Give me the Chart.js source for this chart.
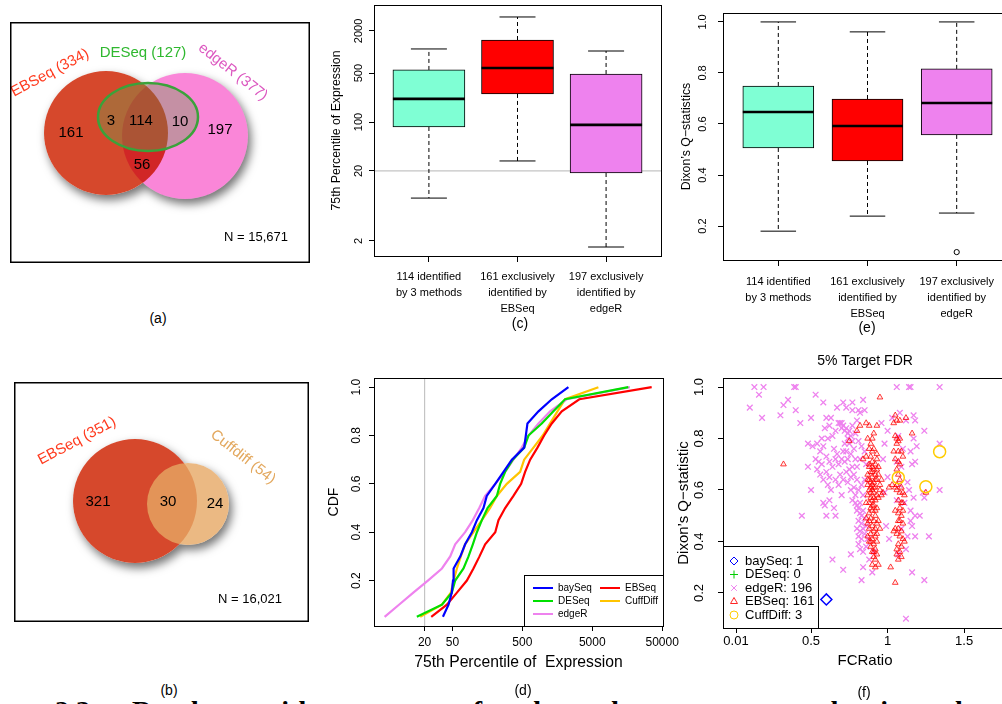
<!DOCTYPE html>
<html>
<head>
<meta charset="utf-8">
<title>DE method comparison</title>
<script src="https://cdn.jsdelivr.net/npm/chart.js@4.4.1/dist/chart.umd.min.js"></script>
<style>
  html, body { margin: 0; padding: 0; background: #fff; }
  body { position: relative; width: 1002px; height: 704px; overflow: hidden; font-family: "Liberation Sans", Arial, sans-serif; color: #000; }
  canvas { position: absolute; }
  .cap { position: absolute; font-size: 14px; transform: translate(-50%, -50%); white-space: nowrap; }
  .heading { position: absolute; left: 55px; top: 697px; font: bold 28px/28px "Liberation Serif", "DejaVu Serif", serif; white-space: pre; word-spacing: 14px; }
</style>
</head>
<body>
<canvas id="vennA" width="300" height="241" style="left:10px;top:22px"></canvas>
<canvas id="vennB" width="295" height="240" style="left:14px;top:382px"></canvas>
<canvas id="exprBox" width="345" height="340" style="left:320px;top:0px"></canvas>
<canvas id="dixonBox" width="360" height="340" style="left:660px;top:0px"></canvas>
<canvas id="exprCdf" width="370" height="325" style="left:320px;top:350px"></canvas>
<canvas id="fdrScatter" width="345" height="330" style="left:670px;top:345px"></canvas>
<div class="heading">2.3  Results  with  some  of  the  data  sets  used  in  the  tests  of  all</div>
<div class="cap" style="left:158px;top:318px">(a)</div>
<div class="cap" style="left:169px;top:690px">(b)</div>
<div class="cap" style="left:520px;top:323px">(c)</div>
<div class="cap" style="left:523px;top:690px">(d)</div>
<div class="cap" style="left:867px;top:327px">(e)</div>
<div class="cap" style="left:864px;top:692px">(f)</div>
<script>
// ---------- data ----------
const vennA_sets = ['EBSeq', 'DESeq', 'edgeR'];
// EBSeq only, EBSeq+DESeq, all three, DESeq+edgeR, edgeR only, EBSeq+edgeR
const vennA_counts = [161, 3, 114, 10, 197, 56];
const vennA_N = 15671;

const vennB_sets = ['EBSeq', 'Cuffdiff'];
// EBSeq only, both, Cuffdiff only
const vennB_counts = [321, 30, 24];
const vennB_N = 16021;

const boxGroups = [
  ['114 identified', 'by 3 methods'],
  ['161 exclusively', 'identified by', 'EBSeq'],
  ['197 exclusively', 'identified by', 'edgeR']
];
const boxColors = ['#7fffd4', '#ff0000', '#ee82ee'];

// 75th percentile of expression (log scale)
const exprTicks = [2, 20, 100, 500, 2000];
const exprMin = [8.2, 27.8, 1.64];
const exprQ1 = [85, 252, 18.7];
const exprMed = [214, 592, 91];
const exprQ3 = [555, 1486, 486];
const exprMax = [1107, 3170, 1035];

// Dixon's Q statistics
const dixonTicks = [0.2, 0.4, 0.6, 0.8, 1.0];
const dixonMin = [0.18, 0.239, 0.251];
const dixonQ1 = [0.506, 0.455, 0.557];
const dixonMed = [0.647, 0.592, 0.682];
const dixonQ3 = [0.749, 0.698, 0.816];
const dixonMax = [1.0, 0.961, 1.0];
const dixonOut = [[], [], [0.098]];

// CDF of the 75th percentile, one x value per quantile level
const cdfLevels = [0.05, 0.10, 0.15, 0.20, 0.25, 0.30, 0.35, 0.40, 0.45, 0.50,
                   0.55, 0.60, 0.65, 0.70, 0.75, 0.80, 0.85, 0.90, 0.95, 1.00];
const cdfXTicks = [20, 50, 500, 5000, 50000];
const cdfYTicks = [0.2, 0.4, 0.6, 0.8, 1.0];
const baySeqQ = [36.6, 44, 49, 51, 52, 65, 76, 95, 112, 139, 155, 205, 269, 354, 531, 561, 592, 851, 1319, 2280];
const deseqQ = [15.5, 35.4, 49, 54.8, 72, 85, 98, 112, 132, 159, 216, 241, 284, 365, 531, 612, 948, 1393, 2046, 16400];
const edgeRQ = [5.36, 8.6, 13.8, 22.3, 35.4, 46.5, 54.8, 76, 98, 121, 147, 205, 284, 373, 491, 612, 851, 1249, 2157, 17300];
const ebseqQ = [24.9, 41.7, 58, 80.5, 100, 122, 147, 205, 228, 284, 373, 481, 548, 647, 823, 1025, 1319, 1832, 3270, 35400];
const cuffQ = [17.3, 35.4, 47.5, 52, 58, 66, 76, 100, 132, 173, 216, 300, 465, 531, 721, 979, 1249, 1589, 2046, 6120];

// 5% target FDR: [FC ratio, Dixon's Q]
const fcTicks = [0.01, 0.5, 1, 1.5];
const qTicks = [0.2, 0.4, 0.6, 0.8, 1.0];
const baySeqPts = [[0.60, 0.175]];
const deseqPts = [];
const edgeRPts = [
  [0.10,0.92],[0.13,1.00],[0.16,0.97],[0.19,1.00],[0.18,0.88],[0.30,0.89],[0.32,0.93],[0.35,0.95],[0.39,1.00],[0.40,1.00],
  [0.40,0.91],[0.43,0.86],[0.50,0.88],[0.53,0.97],[0.58,0.94],[0.60,0.88],[0.48,0.78],[0.51,0.77],[0.54,0.78],[0.54,0.68],
  [0.48,0.69],[0.50,0.60],[0.44,0.50],[0.58,0.77],[0.61,0.80],[0.62,0.71],[0.64,0.81],[0.63,0.88],[0.67,0.92],[0.71,0.94],
  [0.73,0.92],[0.77,0.94],[0.77,0.91],[0.81,0.91],[0.84,0.95],[0.85,0.91],
  [0.55,0.71],[0.57,0.70],[0.56,0.66],[0.58,0.64],[0.60,0.73],[0.60,0.67],[0.62,0.65],[0.61,0.62],[0.63,0.60],[0.58,0.55],
  [0.59,0.54],[0.60,0.50],[0.62,0.56],[0.65,0.53],[0.66,0.50],[0.64,0.69],[0.66,0.72],[0.65,0.76],[0.67,0.74],[0.68,0.70],
  [0.66,0.64],[0.68,0.62],[0.69,0.66],[0.70,0.58],[0.62,0.85],[0.66,0.83],[0.56,0.75],[0.53,0.72],[0.57,0.80],[0.59,0.84],
  [0.68,0.86],[0.69,0.86],[0.70,0.86],[0.71,0.85],[0.70,0.84],[0.72,0.83],[0.73,0.84],[0.74,0.82],[0.75,0.83],[0.74,0.80],
  [0.76,0.81],[0.75,0.78],[0.77,0.79],[0.72,0.78],[0.73,0.75],[0.71,0.75],[0.70,0.72],[0.72,0.71],[0.74,0.72],[0.76,0.74],
  [0.78,0.76],[0.79,0.72],[0.77,0.69],[0.75,0.68],[0.73,0.67],[0.71,0.64],[0.74,0.63],[0.76,0.65],[0.78,0.66],[0.80,0.69],
  [0.82,0.72],[0.80,0.64],[0.78,0.61],[0.76,0.60],[0.79,0.58],[0.81,0.60],[0.83,0.62],[0.77,0.56],[0.79,0.55],[0.80,0.54],
  [0.81,0.53],[0.82,0.55],[0.80,0.52],[0.82,0.51],[0.83,0.50],[0.84,0.52],[0.81,0.48],[0.83,0.47],[0.85,0.49],[0.84,0.45],
  [0.82,0.44],[0.81,0.42],[0.83,0.41],[0.85,0.43],[0.81,0.39],[0.82,0.37],[0.84,0.36],[0.86,0.38],[0.80,0.45],[0.86,0.46],
  [0.84,0.58],[0.85,0.64],[0.86,0.70],[0.85,0.75],[0.83,0.77],[0.81,0.79],[0.79,0.82],[0.77,0.85],[0.80,0.87],[0.82,0.90],
  [0.64,0.33],[0.71,0.29],[0.84,0.30],[0.83,0.25],[0.76,0.35],[0.88,0.33],[0.90,0.28],[0.87,0.41],[0.91,0.36],
  [1.06,1.00],[1.14,1.00],[1.15,1.00],[1.34,1.00],[1.08,0.90],[1.12,0.87],[1.17,0.89],[1.18,0.87],[1.24,0.83],[1.07,0.81],
  [1.10,0.76],[1.06,0.71],[1.09,0.69],[1.17,0.80],[1.19,0.77],[1.15,0.75],[1.18,0.71],[1.16,0.70],[1.34,0.78],[1.13,0.63],
  [1.14,0.60],[1.17,0.57],[1.15,0.52],[1.15,0.48],[1.18,0.50],[1.16,0.46],[1.13,0.42],[1.18,0.42],[1.27,0.42],[1.12,0.37],
  [1.16,0.28],[1.24,0.25],[1.12,0.10],[1.23,0.59],[1.24,0.57],[1.34,0.60],[1.21,0.50],[1.00,0.65],[0.98,0.59],[0.99,0.46],
  [1.01,0.41],[0.97,0.72],[0.98,0.78],[1.00,0.83],[1.03,0.88],[0.96,0.86],[1.06,0.56],[1.08,0.62],[1.11,0.55],[1.09,0.45],
  [1.07,0.35]
];
const ebseqPts = [
  [0.82,0.85],[0.86,0.86],[0.88,0.85],[0.93,0.85],[0.87,0.80],[0.89,0.78],[0.90,0.75],[0.88,0.76],[0.91,0.76],[0.86,0.73],
  [0.89,0.73],[0.93,0.72],[0.90,0.71],[0.92,0.70],[0.88,0.69],[0.91,0.68],[0.94,0.69],[0.89,0.67],[0.87,0.66],[0.90,0.65],
  [0.92,0.66],[0.88,0.64],[0.91,0.63],[0.93,0.64],[0.87,0.62],[0.89,0.61],[0.90,0.62],[0.92,0.61],[0.95,0.62],[0.88,0.60],
  [0.91,0.59],[0.93,0.58],[0.96,0.58],[0.87,0.58],[0.89,0.57],[0.90,0.56],[0.92,0.56],[0.88,0.55],[0.94,0.57],[0.91,0.54],
  [0.89,0.53],[0.93,0.53],[0.90,0.52],[0.88,0.51],[0.92,0.50],[0.89,0.49],[0.91,0.48],[0.94,0.48],[0.87,0.47],[0.90,0.46],
  [0.93,0.47],[0.88,0.45],[0.91,0.44],[0.89,0.43],[0.92,0.42],[0.95,0.45],[0.90,0.41],[0.88,0.40],[0.91,0.39],[0.93,0.40],
  [0.89,0.38],[0.92,0.37],[0.90,0.36],[0.93,0.35],[0.91,0.34],[0.92,0.33],[0.90,0.31],[0.92,0.30],[0.94,0.31],[0.87,0.42],
  [0.86,0.49],[0.86,0.55],[0.94,0.66],[0.95,0.60],[0.93,0.74],[0.90,0.80],[0.91,0.82],[0.96,0.64],[0.97,0.59],[0.89,0.59],
  [0.90,0.60],[0.91,0.61],[0.89,0.63],[0.92,0.64],[0.90,0.67],
  [0.88,0.70],[0.90,0.69],[0.93,0.68],[0.87,0.64],[0.91,0.57],[0.90,0.54],[0.92,0.52],[0.88,0.48],[0.92,0.45],[0.89,0.40],
  [0.91,0.36],[0.93,0.43],
  [1.04,0.86],[1.05,0.89],[1.06,0.87],[1.08,0.87],[1.05,0.81],[1.06,0.80],[1.07,0.79],[1.06,0.78],[1.08,0.80],[1.04,0.75],
  [1.07,0.75],[1.09,0.75],[1.05,0.72],[1.07,0.71],[1.08,0.70],[1.06,0.68],[1.07,0.66],[1.03,0.62],[1.05,0.61],[1.06,0.60],
  [1.08,0.59],[1.10,0.59],[1.11,0.58],[1.07,0.56],[1.09,0.55],[1.08,0.53],[1.10,0.52],[1.07,0.51],[1.09,0.50],[1.08,0.48],
  [1.10,0.47],[1.07,0.45],[1.09,0.44],[1.06,0.43],[1.08,0.42],[1.10,0.41],[1.07,0.39],[1.09,0.38],[1.08,0.36],[1.06,0.35],
  [1.09,0.34],[1.07,0.33],[1.05,0.45],[1.04,0.44],[1.10,0.55],[1.05,0.52],[1.11,0.40],[1.08,0.64],[1.05,0.24],[1.02,0.30],
  [1.10,0.73],[1.12,0.88],[1.06,0.62],[1.09,0.61],[1.07,0.48],[1.06,0.37],
  [0.32,0.70],[0.95,0.96],[0.75,0.79],[0.80,0.83],[1.16,0.82],[1.25,0.59],[1.01,0.61],[0.84,0.72]
];
const cuffPts = [[1.07, 0.648], [1.25, 0.613], [1.34, 0.749]];

// ---------- shared helpers ----------
Chart.defaults.font.family = '"Liberation Sans", Arial, sans-serif';
Chart.defaults.font.size = 11;
Chart.defaults.color = '#000';
Chart.defaults.animation = false;
Chart.defaults.events = [];
Chart.defaults.plugins.legend.display = false;
Chart.defaults.plugins.tooltip.enabled = false;

const FONT = '"Liberation Sans", Arial, sans-serif';

function noPad(s) {
  s.paddingLeft = 0; s.paddingRight = 0; s.paddingTop = 0; s.paddingBottom = 0;
}
function seg(ctx, x1, y1, x2, y2) {
  ctx.beginPath(); ctx.moveTo(x1, y1); ctx.lineTo(x2, y2); ctx.stroke();
}
const toXY = arr => arr.map(p => ({x: p[0], y: p[1]}));

// box around the plotting region
const frame = {
  id: 'frame',
  afterDraw(chart, args, o) {
    const {ctx, chartArea: a} = chart;
    const w = o.width || 1;
    ctx.save();
    ctx.strokeStyle = '#000';
    ctx.lineWidth = w;
    if (o.inset) {
      ctx.strokeRect(a.left + w / 2, a.top + w / 2, a.width - w, a.height - w);
    } else {
      ctx.strokeRect(Math.round(a.left) + 0.5, Math.round(a.top) + 0.5, Math.round(a.width), Math.round(a.height));
    }
    ctx.restore();
  }
};

// light grey reference line at a fixed value
const refLine = {
  id: 'refLine',
  beforeDatasetsDraw(chart, args, o) {
    if (o.value === undefined) return;
    const {ctx, chartArea: a} = chart;
    const p = chart.scales[o.axis].getPixelForValue(o.value);
    ctx.save();
    ctx.strokeStyle = '#c4c4c4';
    ctx.lineWidth = 1.2;
    if (o.axis === 'y') seg(ctx, a.left, p, a.right, p);
    else seg(ctx, p, a.top, p, a.bottom);
    ctx.restore();
  }
};

// whiskers, caps, medians and outliers on top of the floating-bar boxes
const boxWhiskers = {
  id: 'boxWhiskers',
  afterDatasetsDraw(chart, args, o) {
    const {ctx, scales: {y}} = chart;
    const py = v => y.getPixelForValue(v);
    ctx.save();
    ctx.strokeStyle = '#000';
    chart.getDatasetMeta(0).data.forEach((bar, i) => {
      const cx = bar.x, half = bar.width / 2, cap = bar.width / 4;
      ctx.lineWidth = 1;
      ctx.setLineDash([4, 3]);
      seg(ctx, cx, py(o.q3[i]), cx, py(o.max[i]));
      seg(ctx, cx, py(o.q1[i]), cx, py(o.min[i]));
      ctx.setLineDash([]);
      seg(ctx, cx - cap, py(o.max[i]), cx + cap, py(o.max[i]));
      seg(ctx, cx - cap, py(o.min[i]), cx + cap, py(o.min[i]));
      ctx.lineWidth = 2.6;
      seg(ctx, cx - half, py(o.med[i]), cx + half, py(o.med[i]));
      ctx.lineWidth = 1;
      (o.out[i] || []).forEach(v => {
        ctx.beginPath(); ctx.arc(cx, py(v), 2.6, 0, Math.PI * 2); ctx.stroke();
      });
    });
    ctx.restore();
  }
};

// boxed legend sitting in a bottom corner of the plotting region
const boxLegend = {
  id: 'boxLegend',
  afterDatasetsDraw(chart, args, o) {
    const {ctx, chartArea: a} = chart;
    const x0 = o.corner === 'right' ? a.right - o.width : a.left;
    const y0 = a.bottom - o.height;
    ctx.save();
    ctx.fillStyle = '#fff';
    ctx.fillRect(x0, y0, o.width, o.height);
    ctx.strokeStyle = '#000';
    ctx.lineWidth = 1;
    ctx.strokeRect(Math.round(x0) + 0.5, Math.round(y0) + 0.5, o.width, o.height);
    ctx.font = `${o.fontSize}px ${FONT}`;
    ctx.textBaseline = 'middle';
    ctx.textAlign = 'left';
    chart.data.datasets.forEach((ds, i) => {
      const col = Math.floor(i / o.rows), row = i % o.rows;
      const cx = x0 + o.firstX + col * o.colGap;
      const cy = y0 + o.firstY + row * o.rowGap;
      const color = ds.pointBorderColor || ds.borderColor;
      if (o.kind === 'line') {
        ctx.strokeStyle = color;
        ctx.lineWidth = 2;
        seg(ctx, cx, cy, cx + o.sample, cy);
      } else {
        ctx.strokeStyle = color;
        ctx.fillStyle = 'rgba(0,0,0,0)';
        Chart.helpers.drawPoint(ctx, {pointStyle: ds.pointStyle, rotation: 0, radius: 4, borderWidth: 1.2}, cx, cy);
      }
      ctx.fillStyle = '#000';
      const txt = o.showCount ? `${ds.label}: ${ds.data.length}` : ds.label;
      ctx.fillText(txt, cx + o.textX, cy);
    });
    ctx.restore();
  }
};

// drop shadow, blending, the DESeq ellipse and text for the Venn diagrams
const vennDeco = {
  id: 'vennDeco',
  beforeDatasetsDraw(chart) {
    const {ctx} = chart;
    ctx.save();
    ctx.shadowColor = 'rgba(0,0,0,0.55)';
    ctx.shadowBlur = 10;
    ctx.shadowOffsetX = 3;
    ctx.shadowOffsetY = 5;
    ctx.fillStyle = '#fff';
    ctx.beginPath();
    chart.data.datasets.forEach((ds, i) => {
      chart.getDatasetMeta(i).data.forEach(el => {
        const r = el.options.radius;
        ctx.moveTo(el.x + r, el.y);
        ctx.arc(el.x, el.y, r, 0, Math.PI * 2);
      });
    });
    ctx.fill();
    ctx.restore();
  },
  beforeDatasetDraw(chart, args) {
    chart.ctx.save();
    const blend = chart.data.datasets[args.index].blend;
    if (blend) chart.ctx.globalCompositeOperation = blend;
  },
  afterDatasetDraw(chart) {
    chart.ctx.restore();
  },
  afterDatasetsDraw(chart, args, o) {
    const {ctx, scales: {x, y}} = chart;
    ctx.save();
    (o.ellipses || []).forEach(e => {
      const cx = x.getPixelForValue(e.x), cy = y.getPixelForValue(e.y);
      const rx = Math.abs(x.getPixelForValue(e.x + e.rx) - cx);
      const ry = Math.abs(y.getPixelForValue(e.y + e.ry) - cy);
      ctx.beginPath();
      ctx.ellipse(cx, cy, rx, ry, 0, 0, Math.PI * 2);
      ctx.fillStyle = e.fill;
      ctx.fill();
      ctx.lineWidth = 2.5;
      ctx.strokeStyle = e.stroke;
      ctx.stroke();
    });
    (o.texts || []).forEach(t => {
      ctx.save();
      ctx.translate(x.getPixelForValue(t.x), y.getPixelForValue(t.y));
      ctx.rotate((t.angle || 0) * Math.PI / 180);
      ctx.font = `${t.size}px ${FONT}`;
      ctx.fillStyle = t.color;
      ctx.textAlign = t.align || 'center';
      ctx.textBaseline = 'middle';
      ctx.fillText(t.text, 0, 0);
      ctx.restore();
    });
    ctx.restore();
  }
};

// ---------- Venn diagrams ----------
function vennChart(id, circles, ellipses, texts) {
  const el = document.getElementById(id);
  return new Chart(el, {
    type: 'bubble',
    data: {
      datasets: circles.map((c, i) => ({
        data: [{x: c.x, y: c.y, r: c.r}],
        backgroundColor: c.fill,
        borderWidth: 0,
        blend: c.blend,
        clip: false,
        order: circles.length - i
      }))
    },
    options: {
      responsive: false,
      layout: {padding: 0, autoPadding: false},
      scales: {
        x: {display: false, min: 0, max: el.width},
        y: {display: false, min: 0, max: el.height, reverse: true}
      },
      plugins: {
        vennDeco: {ellipses, texts},
        frame: {width: 1.5, inset: true}
      }
    },
    plugins: [vennDeco, frame]
  });
}

const a = vennA_counts;
const vennA_totals = [a[0] + a[1] + a[2] + a[5], a[1] + a[2] + a[3], a[2] + a[3] + a[4] + a[5]];
const vennA_colors = ['#ff3a1e', '#2fb82f', '#dc58c0'];
const vennA_labelPos = [[40, 51, -28], [133, 31, 0], [223, 50, 38]];
const vennA_countPos = [[61, 111], [101, 99], [131, 99], [170, 100], [210, 108], [132, 143]];
vennChart('vennA',
  [{x: 96, y: 111, r: 62, fill: '#d6482c'},
   {x: 175, y: 114, r: 63, fill: '#fa86d8', blend: 'multiply'}],
  [{x: 138, y: 95, rx: 50, ry: 34, fill: 'rgba(110,160,80,0.38)', stroke: '#3aa23a'}],
  [
    ...vennA_sets.map((s, i) => ({text: `${s} (${vennA_totals[i]})`, x: vennA_labelPos[i][0], y: vennA_labelPos[i][1],
      angle: vennA_labelPos[i][2], color: vennA_colors[i], size: 15})),
    ...vennA_counts.map((n, i) => ({text: String(n), x: vennA_countPos[i][0], y: vennA_countPos[i][1], color: '#000', size: 15})),
    {text: `N = ${vennA_N.toLocaleString('en-US')}`, x: 278, y: 215, color: '#000', size: 13, align: 'right'}
  ]);

const b = vennB_counts;
const vennB_totals = [b[0] + b[1], b[1] + b[2]];
const vennB_colors = ['#ff3a1e', '#e3a85e'];
const vennB_labelPos = [[63, 59, -28], [229, 75, 38]];
const vennB_countPos = [[84, 120], [154, 120], [201, 122]];
vennChart('vennB',
  [{x: 121, y: 119, r: 62, fill: '#d6482c'},
   {x: 174, y: 122, r: 41, fill: 'rgba(230,168,100,0.8)'}],
  [],
  [
    ...vennB_sets.map((s, i) => ({text: `${s} (${vennB_totals[i]})`, x: vennB_labelPos[i][0], y: vennB_labelPos[i][1],
      angle: vennB_labelPos[i][2], color: vennB_colors[i], size: 15})),
    ...vennB_counts.map((n, i) => ({text: String(n), x: vennB_countPos[i][0], y: vennB_countPos[i][1], color: '#000', size: 15})),
    {text: `N = ${vennB_N.toLocaleString('en-US')}`, x: 268, y: 217, color: '#000', size: 13, align: 'right'}
  ]);

// ---------- box plots ----------
function boxPlot(id, cfg) {
  return new Chart(document.getElementById(id), {
    type: 'bar',
    data: {
      datasets: [{
        data: cfg.q1.map((v, i) => ({x: i + 1, y: [v, cfg.q3[i]]})),
        backgroundColor: boxColors,
        borderColor: '#000',
        borderWidth: 1,
        borderSkipped: false,
        barThickness: cfg.boxWidth
      }]
    },
    options: {
      responsive: false,
      layout: {padding: {top: cfg.top, right: cfg.right, left: 0, bottom: 0}},
      scales: {
        x: {
          type: 'linear', min: 0.38, max: 3.62, offset: false,
          afterBuildTicks: s => { s.ticks = boxGroups.map((g, i) => ({value: i + 1})); },
          afterFit: s => { s.height = cfg.xHeight; noPad(s); },
          ticks: {callback: (v, i) => boxGroups[i], font: {size: 11, lineHeight: 1.45}, padding: cfg.xPad,
                  maxRotation: 0, autoSkip: false},
          grid: {offset: false, drawOnChartArea: false, tickLength: 6, color: '#000'},
          border: {display: false}
        },
        y: {
          type: cfg.logY ? 'logarithmic' : 'linear', min: cfg.yMin, max: cfg.yMax,
          afterBuildTicks: s => { s.ticks = cfg.yTicks.map(v => ({value: v})); },
          afterFit: s => { s.width = cfg.yWidth; noPad(s); },
          ticks: {callback: cfg.yFmt, font: {size: 11}, minRotation: 90, maxRotation: 90, crossAlign: 'center',
                  padding: cfg.yPad, autoSkip: false},
          grid: {drawOnChartArea: false, tickLength: 5, color: '#000'},
          border: {display: false},
          title: {display: true, text: cfg.yTitle, font: {size: 12.3}, padding: {top: cfg.yTitlePad, bottom: 0}}
        }
      },
      plugins: {
        boxWhiskers: {q1: cfg.q1, q3: cfg.q3, min: cfg.min, med: cfg.med, max: cfg.max, out: cfg.out},
        refLine: cfg.refY !== undefined ? {axis: 'y', value: cfg.refY} : {}
      }
    },
    plugins: [refLine, boxWhiskers, frame]
  });
}

boxPlot('exprBox', {
  q1: exprQ1, q3: exprQ3, min: exprMin, med: exprMed, max: exprMax, out: [[], [], []],
  boxWidth: 72, top: 5, right: 4, xHeight: 84, xPad: 7,
  logY: true, yMin: 1.22, yMax: 4700, yTicks: exprTicks, yFmt: v => String(v),
  yWidth: 54, yPad: -2, yTitle: '75th Percentile of Expression', yTitlePad: 9, refY: 20
});

boxPlot('dixonBox', {
  q1: dixonQ1, q3: dixonQ3, min: dixonMin, med: dixonMed, max: dixonMax, out: dixonOut,
  boxWidth: 71, top: 13, right: 8, xHeight: 80, xPad: 8,
  logY: false, yMin: 0.067, yMax: 1.035, yTicks: dixonTicks, yFmt: v => v.toFixed(1),
  yWidth: 63, yPad: 7, yTitle: 'Dixon\u2019s Q\u2212statistics', yTitlePad: 19
});

// ---------- CDF of expression ----------
const cdfSeries = [
  {label: 'baySeq', q: baySeqQ, color: '#0000ff'},
  {label: 'DESeq', q: deseqQ, color: '#00e000'},
  {label: 'edgeR', q: edgeRQ, color: '#ee82ee'},
  {label: 'EBSeq', q: ebseqQ, color: '#ff0000'},
  {label: 'CuffDiff', q: cuffQ, color: '#ffc400'}
];
new Chart(document.getElementById('exprCdf'), {
  type: 'line',
  data: {
    datasets: cdfSeries.map(s => ({
      label: s.label,
      data: cdfLevels.map((p, i) => ({x: s.q[i], y: p})),
      borderColor: s.color,
      borderWidth: 2.2,
      pointRadius: 0,
      tension: 0
    }))
  },
  options: {
    responsive: false,
    layout: {padding: {top: 28, right: 27, left: 0, bottom: 0}},
    scales: {
      x: {
        type: 'logarithmic', min: 3.78, max: 51400,
        afterBuildTicks: s => { s.ticks = cdfXTicks.map(v => ({value: v})); },
        afterFit: s => { s.height = 49; noPad(s); },
        ticks: {callback: v => String(v), font: {size: 12}, padding: 4, maxRotation: 0, autoSkip: false},
        grid: {drawOnChartArea: false, tickLength: 5, color: '#000'},
        border: {display: false},
        title: {display: true, text: '75th Percentile of  Expression', font: {size: 15.7}, padding: {top: 0, bottom: 3}}
      },
      y: {
        type: 'linear', min: 0.012, max: 1.038,
        afterBuildTicks: s => { s.ticks = cdfYTicks.map(v => ({value: v})); },
        afterFit: s => { s.width = 54; noPad(s); },
        ticks: {callback: v => v.toFixed(1), font: {size: 12}, minRotation: 90, maxRotation: 90, crossAlign: 'center',
                padding: 4, autoSkip: false},
        grid: {drawOnChartArea: false, tickLength: 5, color: '#000'},
        border: {display: false},
        title: {display: true, text: 'CDF', font: {size: 14}, padding: {top: 6, bottom: 0}}
      }
    },
    plugins: {
      refLine: {axis: 'x', value: 20},
      boxLegend: {corner: 'right', width: 139, height: 51, rows: 3, firstX: 9, firstY: 13, colGap: 67, rowGap: 13,
                  textX: 25, sample: 20, fontSize: 10, kind: 'line'}
    }
  },
  plugins: [refLine, boxLegend, frame]
});

// ---------- FC ratio vs Dixon's Q at 5% FDR ----------
new Chart(document.getElementById('fdrScatter'), {
  type: 'scatter',
  data: {
    datasets: [
      {label: 'baySeq', data: toXY(baySeqPts), pointStyle: 'rectRot', pointRadius: 5.5, pointBorderColor: '#0000ff',
       pointBackgroundColor: 'rgba(0,0,0,0)', pointBorderWidth: 1.5, order: 0},
      {label: 'DESeq', data: toXY(deseqPts), pointStyle: 'cross', pointRadius: 4, pointBorderColor: '#00cd00',
       pointBackgroundColor: 'rgba(0,0,0,0)', pointBorderWidth: 1.5, order: 1},
      {label: 'edgeR', data: toXY(edgeRPts), pointStyle: 'crossRot', pointRadius: 4, pointBorderColor: '#ee82ee',
       pointBackgroundColor: 'rgba(0,0,0,0)', pointBorderWidth: 1.3, order: 4},
      {label: 'EBSeq', data: toXY(ebseqPts), pointStyle: 'triangle', pointRadius: 3.3, pointBorderColor: 'rgba(255,0,0,0.85)',
       pointBackgroundColor: 'rgba(255,0,0,0.08)', pointBorderWidth: 0.9, order: 3},
      {label: 'CuffDiff', data: toXY(cuffPts), pointStyle: 'circle', pointRadius: 6, pointBorderColor: '#ffcc00',
       pointBackgroundColor: 'rgba(0,0,0,0)', pointBorderWidth: 1.5, order: 2}
    ]
  },
  options: {
    responsive: false,
    layout: {padding: {top: 0, right: 8, left: 0, bottom: 0}},
    scales: {
      x: {
        type: 'linear', min: -0.075, max: 1.78,
        afterBuildTicks: s => { s.ticks = fcTicks.map(v => ({value: v})); },
        afterFit: s => { s.height = 47; noPad(s); },
        ticks: {callback: v => String(v), font: {size: 13}, padding: 1, maxRotation: 0, autoSkip: false},
        grid: {drawOnChartArea: false, tickLength: 5, color: '#000'},
        border: {display: false},
        title: {display: true, text: 'FCRatio', font: {size: 15}, padding: {top: 0, bottom: 5}}
      },
      y: {
        type: 'linear', min: 0.064, max: 1.035,
        afterBuildTicks: s => { s.ticks = qTicks.map(v => ({value: v})); },
        afterFit: s => { s.width = 53; noPad(s); },
        ticks: {callback: v => v.toFixed(1), font: {size: 13}, minRotation: 90, maxRotation: 90, crossAlign: 'center',
                padding: 10, autoSkip: false},
        grid: {drawOnChartArea: false, tickLength: 5, color: '#000'},
        border: {display: false},
        title: {display: true, text: 'Dixon\u2019s Q\u2212statistic', font: {size: 15}, padding: {top: 5, bottom: 0}}
      }
    },
    plugins: {
      title: {display: true, text: '5% Target FDR', fullSize: false, color: '#000',
              font: {size: 14, weight: 'normal'}, padding: {top: 8, bottom: 8.2}},
      boxLegend: {corner: 'left', width: 95, height: 82, rows: 5, firstX: 11, firstY: 15, colGap: 0, rowGap: 13.5,
                  textX: 11, sample: 0, fontSize: 13, kind: 'point', showCount: true}
    }
  },
  plugins: [boxLegend, frame]
});
</script>
</body>
</html>
